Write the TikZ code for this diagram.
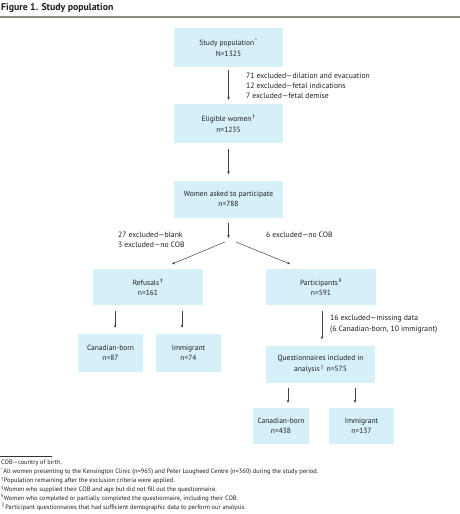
\documentclass[tikz,border=0pt]{standalone}
\usepackage{fontspec}
\setmainfont{PT Sans}
\usetikzlibrary{arrows.meta}
\definecolor{boxcol}{RGB}{214,240,250}
\definecolor{rulecol}{RGB}{140,140,125}
\definecolor{txt}{RGB}{30,30,30}
\newcommand{\sm}[1]{\textsuperscript{\,#1}}
\tikzset{
  box/.style={fill=boxcol, align=center, inner sep=1pt, text=txt,
    font=\fontsize{7.5}{10.5}\selectfont},
  note/.style={anchor=west, align=left, inner sep=0pt, text=txt,
    font=\fontsize{7.7}{10.3}\selectfont},
  foot/.style={anchor=west, inner sep=0pt, text=txt,
    font=\fontsize{6.4}{7}\selectfont},
  arr/.style={draw=black!75, line width=0.5pt, -{Stealth[length=3pt,width=2.6pt]}},
  ln/.style={draw=black!75, line width=0.5pt}
}
\begin{document}
\begin{tikzpicture}[x=1pt,y=-1pt]
\useasboundingbox (0,0) rectangle (460,514);
% title
\node[anchor=west, inner sep=0pt, text=txt, font=\fontsize{9.8}{11}\selectfont\bfseries] (title) at (1,8) {Figure 1. Study population};
\coordinate (rl) at (0,17);
\coordinate (rr) at (460,17);
\draw[rulecol, line width=1.6pt] (rl) -- (rr);

% boxes
\node[box, minimum width=109pt, minimum height=39pt] (study) at (228.5,47.5) {Study population\sm{*}\\N=1325};
\node[box, minimum width=109pt, minimum height=39pt] (elig) at (228.5,123.5) {Eligible women\sm{†}\\n=1235};
\node[box, minimum width=109pt, minimum height=37pt] (women) at (228.5,199) {Women asked to participate\\n=788};
\node[box, minimum width=110pt, minimum height=36pt] (ref) at (148,287) {Refusals\sm{‡}\\n=161};
\node[box, minimum width=110pt, minimum height=36pt] (part) at (321,287) {Participants\sm{§}\\n=591};
\node[box, minimum width=65pt, minimum height=38pt] (rcan) at (110.5,353) {Canadian-born\\n=87};
\node[box, minimum width=65pt, minimum height=38pt] (rimm) at (188.5,353) {Immigrant\\n=74};
\node[box, minimum width=109pt, minimum height=37pt] (quest) at (320.5,364) {Questionnaires included in\\analysis\sm{$\|$} n=575};
\node[box, minimum width=56pt, minimum height=36pt] (qcan) at (281,426) {Canadian-born\\n=438};
\node[box, minimum width=65pt, minimum height=36pt] (qimm) at (361.5,426) {Immigrant\\n=137};

% arrows
\draw[arr, shorten <=3pt, shorten >=4pt] (study.south) -- (elig.north);
\draw[arr, shorten <=6pt, shorten >=6pt] (elig.south) -- (women.north);
\coordinate (split) at (228.5,238);
\draw[arr, shorten <=5pt] (women.south) -- (split);
\coordinate (bl) at (225,242);
\coordinate (tl) at (172,264);
\coordinate (br) at (236,242);
\coordinate (tr) at (290,264);
\draw[arr] (bl) -- (tl);
\draw[arr] (br) -- (tr);
\draw[arr] ([xshift=-33pt,yshift=-6pt]ref.south) -- ([xshift=4.5pt,yshift=6pt]rcan.north);
\draw[arr] ([xshift=34pt,yshift=-6pt]ref.south) -- ([xshift=-6.5pt,yshift=6pt]rimm.north);
\draw[arr, shorten <=6pt, shorten >=6pt] ([xshift=1pt]part.south) -- ([xshift=1.5pt]quest.north);
\draw[arr] ([xshift=-32.5pt,yshift=-5pt]quest.south) -- ([xshift=7pt,yshift=5pt]qcan.north);
\draw[arr] ([xshift=34.5pt,yshift=-5pt]quest.south) -- ([xshift=-6.5pt,yshift=5pt]qimm.north);

% notes
\node[note] (n1) at (246,86) {71 excluded—dilation and evacuation\\12 excluded—fetal indications\\7 excluded—fetal demise};
\node[note] (n2) at (118,240) {27 excluded—blank\\3 excluded—no COB};
\node[note] (n3) at (266,235) {6 excluded—no COB};
\node[note] (n4) at (330,324) {16 excluded—missing data\\(6 Canadian-born, 10 immigrant)};

% footnotes
\coordinate (fl) at (0,456);
\coordinate (fr) at (52,456);
\draw[black!80, line width=0.4pt] (fl) -- (fr);
\node[foot] (f1) at (1,463) {COB—country of birth.};
\node[foot] (f2) at (1,471.8) {\textsuperscript{*}All women presenting to the Kensington Clinic (n=965) and Peter Lougheed Centre (n=360) during the study period.};
\node[foot] (f3) at (1,480.6) {\textsuperscript{†}Population remaining after the exclusion criteria were applied.};
\node[foot] (f4) at (1,489.4) {\textsuperscript{‡}Women who supplied their COB and age but did not fill out the questionnaire.};
\node[foot] (f5) at (1,498.2) {\textsuperscript{§}Women who completed or partially completed the questionnaire, including their COB.};
\node[foot] (f6) at (1,507) {\textsuperscript{$\|$}Participant questionnaires that had sufficient demographic data to perform our analysis.};
\end{tikzpicture}
\end{document}
